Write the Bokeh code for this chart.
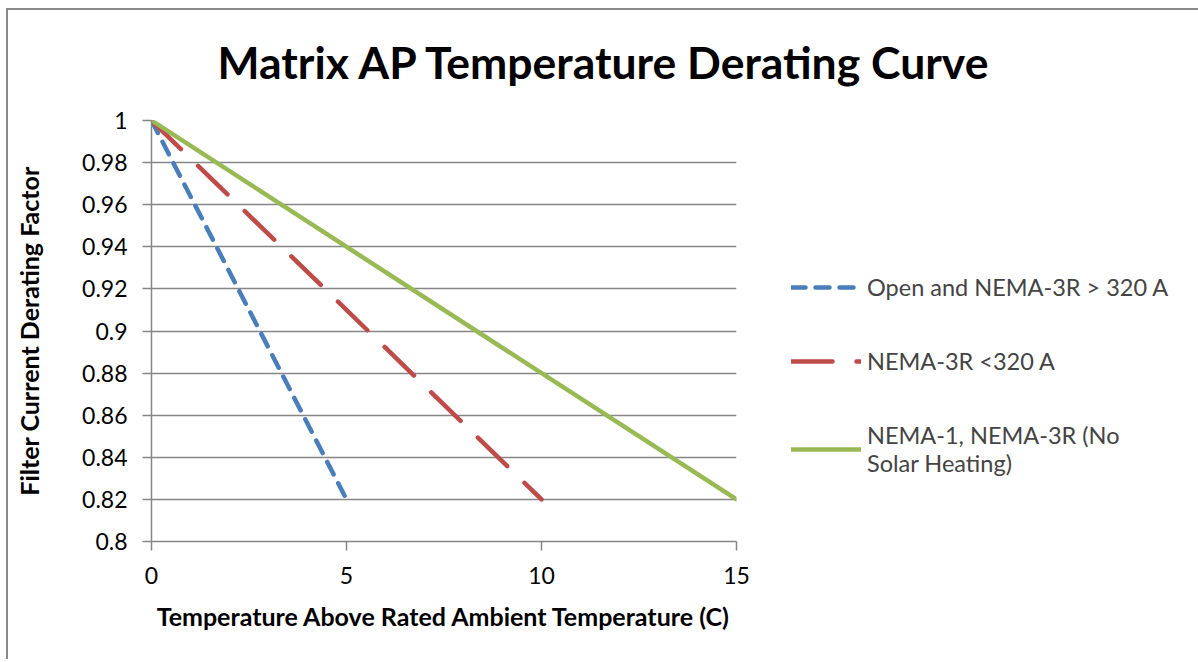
from bokeh.plotting import figure
from bokeh.models import FixedTicker, Legend, LegendItem, Range1d
from bokeh.embed import file_html
from bokeh.resources import INLINE

# ---- data ----
title_text = "Matrix AP Temperature Derating Curve"
x_label = "Temperature Above Rated Ambient Temperature (C)"
y_label = "Filter Current Derating Factor"

series_names = ["Open and NEMA-3R > 320 A",
                "NEMA-3R <320 A",
                "NEMA-1, NEMA-3R (No\nSolar Heating)"]
open_x = [0, 5]
open_y = [1.0, 0.82]
nema3r_x = [0, 10]
nema3r_y = [1.0, 0.82]
nema1_x = [0, 15]
nema1_y = [1.0, 0.82]

x_ticks = [0, 5, 10, 15]
y_ticks = [0.8, 0.82, 0.84, 0.86, 0.88, 0.9, 0.92, 0.94, 0.96, 0.98, 1.0]
y_tick_labels = ["0.8", "0.82", "0.84", "0.86", "0.88", "0.9", "0.92", "0.94", "0.96", "0.98", "1"]

FONT = "Lato"
GRID = "#868686"
BORDER = "#8a8a8a"

p = figure(frame_width=585, frame_height=421, output_backend="svg", toolbar_location=None,
           x_range=Range1d(0, 15), y_range=Range1d(0.8, 1.0),
           min_border_left=146, min_border_right=20, min_border_top=20, min_border_bottom=118)
p.styles = {
    "margin-left": "5px", "margin-top": "0px",
    "background": (f"linear-gradient({BORDER},{BORDER}) 1px 8px / 100% 2px no-repeat, "
                   f"linear-gradient({BORDER},{BORDER}) 1px 8px / 2px 100% no-repeat, white"),
}
p.border_fill_alpha = 0
p.outline_line_color = None
p.background_fill_color = "white"

p.title.text = title_text
p.title.text_font = FONT
p.title.text_font_style = "bold"
p.title.text_font_size = "44.5px"
p.title.text_color = "black"
p.title.align = "left"
p.title.offset = 66
p.title.standoff = 65

# axes
for ax in (p.xaxis[0], p.yaxis[0]):
    ax.axis_line_color = GRID
    ax.axis_line_width = 1.5
    ax.major_tick_line_color = GRID
    ax.major_tick_line_width = 1.5
    ax.major_tick_out = 9
    ax.major_tick_in = 0
    ax.minor_tick_line_color = None
    ax.major_label_text_font = FONT
    ax.major_label_text_font_size = "23px"
    ax.major_label_text_color = "black"
    ax.axis_label_text_font = FONT
    ax.axis_label_text_font_style = "bold"
    ax.axis_label_text_font_size = "25px"
    ax.axis_label_text_color = "black"

p.xaxis.ticker = FixedTicker(ticks=x_ticks)
p.yaxis.ticker = FixedTicker(ticks=y_ticks)
p.yaxis.major_label_overrides = dict(zip(y_ticks, y_tick_labels))
p.xaxis.axis_label = x_label
p.yaxis.axis_label = y_label
p.xaxis.major_label_standoff = 16
p.xaxis.axis_label_standoff = 14
p.yaxis.major_label_standoff = 15
p.yaxis.axis_label_standoff = 35

p.xgrid.grid_line_color = None
p.ygrid.grid_line_color = GRID
p.ygrid.grid_line_width = 1.5

r1 = p.line(open_x, open_y, line_color="#4A7EBB", line_width=4.5, line_dash="14 10", line_cap="round")
r2 = p.line(nema3r_x, nema3r_y, line_color="#BE4B48", line_width=4.5, line_dash="41 24", line_cap="round")
r3 = p.line(nema1_x, nema1_y, line_color="#98B954", line_width=4.5, line_cap="round")

legend = Legend(items=[LegendItem(label=series_names[0], renderers=[r1]),
                       LegendItem(label=series_names[1], renderers=[r2]),
                       LegendItem(label=series_names[2], renderers=[r3])],
                location=(55, 64), orientation="vertical",
                border_line_color=None, background_fill_alpha=0,
                padding=0, margin=0, spacing=46,
                glyph_width=70, glyph_height=24, label_standoff=6,
                label_text_font=FONT, label_text_font_size="23.5px", label_height=24)
p.add_layout(legend, "right")

open("out.html", "w").write(file_html(p, INLINE))
